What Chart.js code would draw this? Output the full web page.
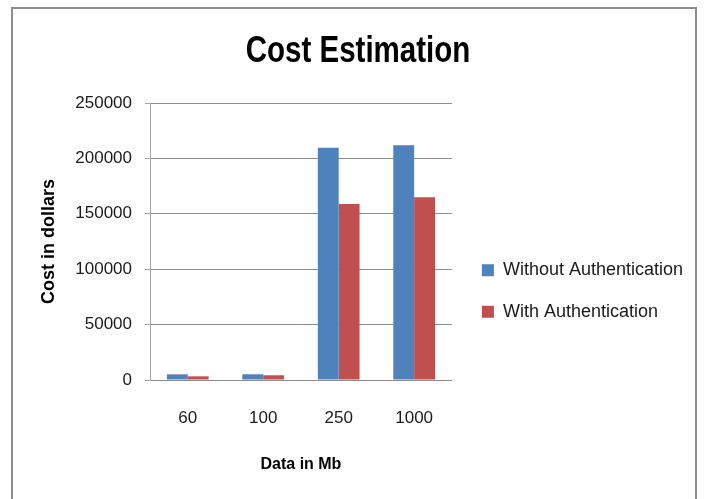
<!DOCTYPE html>
<html>
<head>
<meta charset="utf-8">
<script src="https://cdn.jsdelivr.net/npm/chart.js@4.4.1/dist/chart.umd.min.js"></script>
<style>
  html, body { margin: 0; padding: 0; background: #ffffff; }
  #wrap { position: relative; width: 707px; height: 499px; overflow: hidden; }
  #frame {
    position: absolute; left: 11px; top: 7px; width: 686px; height: 540px;
    box-sizing: border-box; border: 2px solid #8c8c8c;
  }
  #chart { position: absolute; left: 0; top: 0; }
</style>
</head>
<body>
<div id="wrap">
  <div id="frame"></div>
  <canvas id="chart" width="707" height="499"></canvas>
</div>
<script>
// Data volumes (Mb) on the category axis
const categories = ['60', '100', '250', '1000'];
// Cost in dollars for each data volume
const withoutAuthentication = [5100, 5150, 209700, 211800];
const withAuthentication = [3300, 4250, 158800, 164900];
// Value axis ticks
const yTicks = [0, 50000, 100000, 150000, 200000, 250000];

const seriesNames = ['Without Authentication', 'With Authentication'];
const seriesColors = ['#4f81bd', '#c0504d'];

const baseFont = '"Liberation Sans", Arial, sans-serif';

// Draws the chart title in a condensed (horizontally narrowed) face
const condensedTitle = {
  id: 'condensedTitle',
  afterLayout(chart) {
    const t = chart.titleBlock;
    if (!t || t._condensed) return;
    const drawTitle = t.draw.bind(t);
    t.draw = function (area) {
      const ctx = this.ctx;
      const cx = (this.left + this.right) / 2;
      ctx.save();
      ctx.translate(cx, 0);
      ctx.scale(0.82, 1);
      ctx.translate(-cx, 0);
      drawTitle(area);
      ctx.restore();
    };
    t._condensed = true;
  }
};

new Chart(document.getElementById('chart'), {
  type: 'bar',
  data: {
    labels: categories,
    datasets: [
      { label: seriesNames[0], data: withoutAuthentication, backgroundColor: seriesColors[0] },
      { label: seriesNames[1], data: withAuthentication, backgroundColor: seriesColors[1] }
    ]
  },
  plugins: [condensedTitle],
  options: {
    responsive: false,
    animation: false,
    layout: { padding: { left: 23, right: 14, top: 0, bottom: 20 } },
    datasets: { bar: { categoryPercentage: 0.553, barPercentage: 1.0 } },
    plugins: {
      title: {
        display: true,
        text: 'Cost Estimation',
        color: '#000000',
        font: { family: baseFont, size: 36, weight: 'bold' },
        padding: { top: 30, bottom: 29.8 }
      },
      legend: {
        display: true,
        position: 'right',
        align: 'start',
        maxWidth: 260,
        // empty legend heading, used only to push the entries down beside the plot
        title: { display: true, text: '', font: { size: 12 }, padding: { top: 223.4, bottom: 0 } },
        labels: {
          color: '#1a1a1a',
          font: { family: baseFont, size: 18 },
          boxWidth: 12,
          boxHeight: 12,
          padding: 23.5
        }
      },
      tooltip: { enabled: false }
    },
    scales: {
      x: {
        grid: { display: false },
        border: { display: true, color: '#8c8c8c', width: 1 },
        ticks: { color: '#1a1a1a', font: { family: baseFont, size: 17 }, padding: 20 },
        title: {
          display: true,
          text: 'Data in Mb',
          color: '#000000',
          font: { family: baseFont, size: 16, weight: 'bold' },
          padding: { top: 0, bottom: 5 }
        },
        afterFit: (scale) => { scale.height = 99; }
      },
      y: {
        min: 0,
        max: 250000,
        afterBuildTicks: (scale) => { scale.ticks = yTicks.map(v => ({ value: v })); },
        grid: { color: '#8c8c8c', lineWidth: 1, drawTicks: true, tickLength: 5, tickColor: '#a6a6a6' },
        border: { display: true, color: '#a6a6a6', width: 1 },
        ticks: {
          color: '#1a1a1a',
          font: { family: baseFont, size: 17 },
          padding: 13,
          callback: (v) => String(v)
        },
        title: {
          display: true,
          text: 'Cost in dollars',
          color: '#000000',
          font: { family: baseFont, size: 18, weight: 'bold' },
          padding: { top: 15, bottom: 0 }
        },
        afterFit: (scale) => { scale.width = 127; }
      },
      gap: {
        type: 'linear',
        position: 'right',
        display: true,
        grid: { display: false },
        border: { display: false },
        ticks: { display: false },
        afterFit: (scale) => { scale.width = 6.5; }
      }
    }
  }
});
</script>
</body>
</html>
